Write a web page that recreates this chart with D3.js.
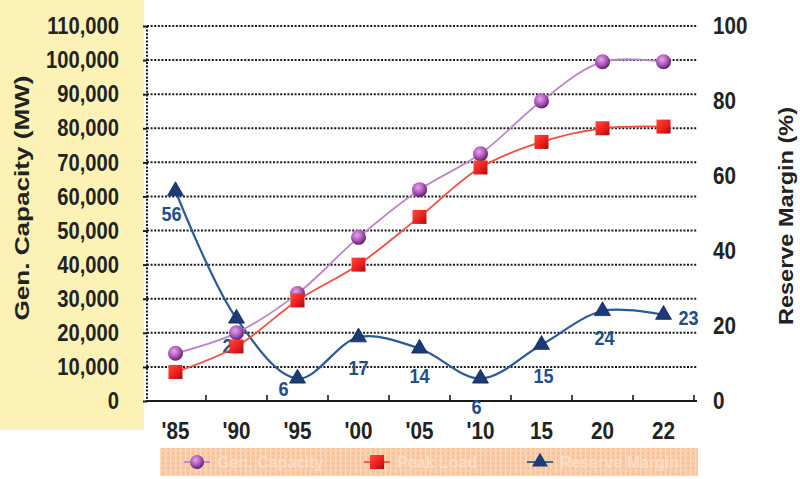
<!DOCTYPE html>
<html>
<head>
<meta charset="utf-8">
<script src="https://cdn.jsdelivr.net/npm/d3@7"></script>
<style>
  html, body { margin: 0; padding: 0; background: #ffffff; }
  svg { display: block; }
  .num { font-family: "Liberation Sans", Arial, sans-serif; font-weight: bold; }
</style>
</head>
<body>
<svg id="chart" width="800" height="479"></svg>
<script>
// ---- data ----
const years = ["'85", "'90", "'95", "'00", "'05", "'10", "15", "20", "22"];
const genCapacity = [14000, 20000, 31500, 48000, 62000, 72500, 88000, 99500, 99500];   // MW
const peakLoad    = [8500, 16000, 29500, 40000, 54000, 68500, 76000, 80000, 80500];    // MW
const reserveMargin = [56, 22, 6, 17, 14, 6, 15, 24, 23];                               // %
const capacityTicks = [0, 10000, 20000, 30000, 40000, 50000, 60000, 70000, 80000, 90000, 100000, 110000];
const marginTicks = [0, 20, 40, 60, 80, 100];
const legendLabels = ["Gen. Capacity", "Peak Load", "Reserve Margin"];

// label nudges for the reserve-margin values (dx, dy from the marker)
const marginLabelNudge = [[-4, 22], [-4, 27], [-14, 10], [0, 30], [0, 27], [-4, 28], [2, 31], [2, 26], [25, 3]];

const svg = d3.select("#chart");
const plotLeft = 147, plotRight = 697, bandRight = 694, plotTop = 26, plotBottom = 401;

const x = d3.scaleBand().domain(years).range([145, bandRight]);
const cx = d => x(d) + x.bandwidth() / 2;
const yCap = d3.scaleLinear().domain([0, 110000]).range([plotBottom, plotTop]);
const yMargin = d3.scaleLinear().domain([0, 100]).range([plotBottom, plotTop]);

// squeeze a text selection horizontally to get a condensed face
function condense(sel, f) {
  sel.each(function () {
    const w = this.getComputedTextLength();
    d3.select(this).attr("textLength", w * f).attr("lengthAdjust", "spacingAndGlyphs");
  });
}

// ---- defs: gradients & legend pattern ----
const defs = svg.append("defs");
const rg = defs.append("radialGradient").attr("id", "ball").attr("cx", "40%").attr("cy", "35%").attr("r", "65%");
rg.append("stop").attr("offset", "0%").attr("stop-color", "#e4a6ea");
rg.append("stop").attr("offset", "55%").attr("stop-color", "#b05abd");
rg.append("stop").attr("offset", "100%").attr("stop-color", "#5e1f6c");
const sg = defs.append("linearGradient").attr("id", "box").attr("x1", "0").attr("y1", "0").attr("x2", "1").attr("y2", "1");
sg.append("stop").attr("offset", "0%").attr("stop-color", "#ff4a3a");
sg.append("stop").attr("offset", "60%").attr("stop-color", "#e81c1c");
sg.append("stop").attr("offset", "100%").attr("stop-color", "#9a1010");
const pat = defs.append("pattern").attr("id", "weave").attr("width", 5).attr("height", 5).attr("patternUnits", "userSpaceOnUse");
pat.append("rect").attr("width", 5).attr("height", 5).attr("fill", "#f8c49c");
pat.append("rect").attr("x", 0).attr("width", 1.4).attr("height", 5).attr("fill", "#fbdcc2");
pat.append("rect").attr("y", 0).attr("width", 5).attr("height", 1.2).attr("fill", "#fad3b5");

// ---- background panel ----
svg.append("rect").attr("x", 0).attr("y", 0).attr("width", 144).attr("height", 430).attr("fill", "#fcf2b5");

// ---- grid lines ----
svg.append("g").selectAll("line").data(capacityTicks.filter(d => d > 0)).join("line")
  .attr("x1", plotLeft).attr("x2", plotRight)
  .attr("y1", d => yCap(d)).attr("y2", d => yCap(d))
  .attr("stroke", "#1a1a1a").attr("stroke-width", 2).attr("stroke-dasharray", "2,1.6");

// ---- left axis ----
const leftAxis = d3.axisLeft(yCap).tickValues(capacityTicks).tickFormat(d3.format(",")).tickSize(4).tickPadding(24);
const gl = svg.append("g").attr("transform", `translate(${plotLeft},0)`).call(leftAxis);
gl.select(".domain").attr("stroke", "#1a1a1a").attr("stroke-width", 2).attr("stroke-dasharray", "2,1.6").attr("d", `M0,${plotTop}V${plotBottom}`);
gl.selectAll(".tick line").attr("stroke", "#1a1a1a").attr("stroke-width", 2);
gl.selectAll(".tick text").attr("class", "num").attr("font-size", 24).attr("fill", "#222").call(condense, 0.84);

// ---- right axis (labels only) ----
const rightAxis = d3.axisRight(yMargin).tickValues(marginTicks).tickSize(0).tickPadding(16);
const gr = svg.append("g").attr("transform", `translate(${plotRight},0)`).call(rightAxis);
gr.select(".domain").remove();
gr.selectAll(".tick text").attr("class", "num").attr("font-size", 24).attr("fill", "#222").call(condense, 0.86);

// ---- bottom axis ----
const bottomAxis = d3.axisBottom(x).tickSize(0).tickPadding(21);
const gb = svg.append("g").attr("transform", `translate(0,${plotBottom})`).call(bottomAxis);
gb.select(".domain").remove();
gb.selectAll(".tick text").attr("class", "num").attr("font-size", 24).attr("fill", "#222").call(condense, 0.86);
svg.append("line").attr("x1", plotLeft - 1).attr("x2", plotRight).attr("y1", plotBottom).attr("y2", plotBottom)
  .attr("stroke", "#1a1a1a").attr("stroke-width", 2);
svg.append("g").selectAll("line").data(years).join("line")
  .attr("x1", d => x(d) + x.bandwidth()).attr("x2", d => x(d) + x.bandwidth())
  .attr("y1", plotBottom).attr("y2", plotBottom - 6)
  .attr("stroke", "#1a1a1a").attr("stroke-width", 1.6);

// ---- axis titles ----
svg.append("text").attr("class", "num").attr("font-size", 21).attr("fill", "#222")
  .attr("text-anchor", "middle").attr("transform", "translate(29,198) rotate(-90)")
  .attr("textLength", 245).attr("lengthAdjust", "spacingAndGlyphs")
  .text("Gen. Capacity (MW)");
svg.append("text").attr("class", "num").attr("font-size", 21).attr("fill", "#222")
  .attr("text-anchor", "middle").attr("transform", "translate(793,216) rotate(-90)")
  .attr("textLength", 218).attr("lengthAdjust", "spacingAndGlyphs")
  .text("Reserve Margin (%)");

// ---- lines ----
const curve = d3.curveCatmullRom.alpha(0.5);
const capLine = d3.line().x((d, i) => cx(years[i])).y(d => yCap(d)).curve(curve);
const marginLine = d3.line().x((d, i) => cx(years[i])).y(d => yMargin(d)).curve(curve);

svg.append("path").datum(reserveMargin).attr("d", marginLine)
  .attr("fill", "none").attr("stroke", "#2b5a98").attr("stroke-width", 2.2);

// reserve margin value labels (beneath the other series' markers)
svg.append("g").selectAll("text").data(reserveMargin).join("text")
  .attr("class", "num").attr("font-size", 21).attr("fill", "#1f4e8d")
  .attr("text-anchor", "middle").attr("dominant-baseline", "central")
  .attr("x", (d, i) => cx(years[i]) + marginLabelNudge[i][0])
  .attr("y", (d, i) => yMargin(d) + marginLabelNudge[i][1])
  .text(d => d)
  .call(condense, 0.86);

svg.append("path").datum(genCapacity).attr("d", capLine)
  .attr("fill", "none").attr("stroke", "#bb85c9").attr("stroke-width", 1.8);
svg.append("path").datum(peakLoad).attr("d", capLine)
  .attr("fill", "none").attr("stroke", "#f0503e").attr("stroke-width", 1.8);

// ---- markers ----
const tri = d3.symbol().type(d3.symbolTriangle).size(110);
svg.append("g").selectAll("path").data(reserveMargin).join("path")
  .attr("d", tri)
  .attr("transform", (d, i) => `translate(${cx(years[i])},${yMargin(d)})`)
  .attr("fill", "#1b3a78").attr("stroke", "#112652").attr("stroke-width", 0.8);

svg.append("g").selectAll("circle").data(genCapacity).join("circle")
  .attr("cx", (d, i) => cx(years[i])).attr("cy", d => yCap(d)).attr("r", 7.5)
  .attr("fill", "url(#ball)");

svg.append("g").selectAll("rect").data(peakLoad).join("rect")
  .attr("x", (d, i) => cx(years[i]) - 7).attr("y", d => yCap(d) - 7)
  .attr("width", 14).attr("height", 14).attr("fill", "url(#box)");

// ---- legend ----
const lg = svg.append("g");
lg.append("rect").attr("x", 160).attr("y", 448).attr("width", 538).attr("height", 28).attr("fill", "url(#weave)");
const legendX = [197, 377, 540];
const legendY = 462;
legendLabels.forEach((lab, i) => {
  const mx = legendX[i];
  lg.append("line").attr("x1", mx - 13).attr("x2", mx + 13).attr("y1", legendY).attr("y2", legendY)
    .attr("stroke", ["#bb85c9", "#f0503e", "#2b5a98"][i]).attr("stroke-width", 1.8);
  if (i === 0) lg.append("circle").attr("cx", mx).attr("cy", legendY).attr("r", 7).attr("fill", "url(#ball)");
  if (i === 1) lg.append("rect").attr("x", mx - 7).attr("y", legendY - 7).attr("width", 14).attr("height", 14).attr("fill", "url(#box)");
  if (i === 2) lg.append("path").attr("d", tri).attr("transform", `translate(${mx},${legendY})`).attr("fill", "#1b3a78");
  lg.append("text").attr("class", "num").attr("font-size", 16).attr("fill", "#fbdcc6")
    .attr("x", mx + 20).attr("y", legendY).attr("dominant-baseline", "central")
    .text(lab);
});
</script>
</body>
</html>
